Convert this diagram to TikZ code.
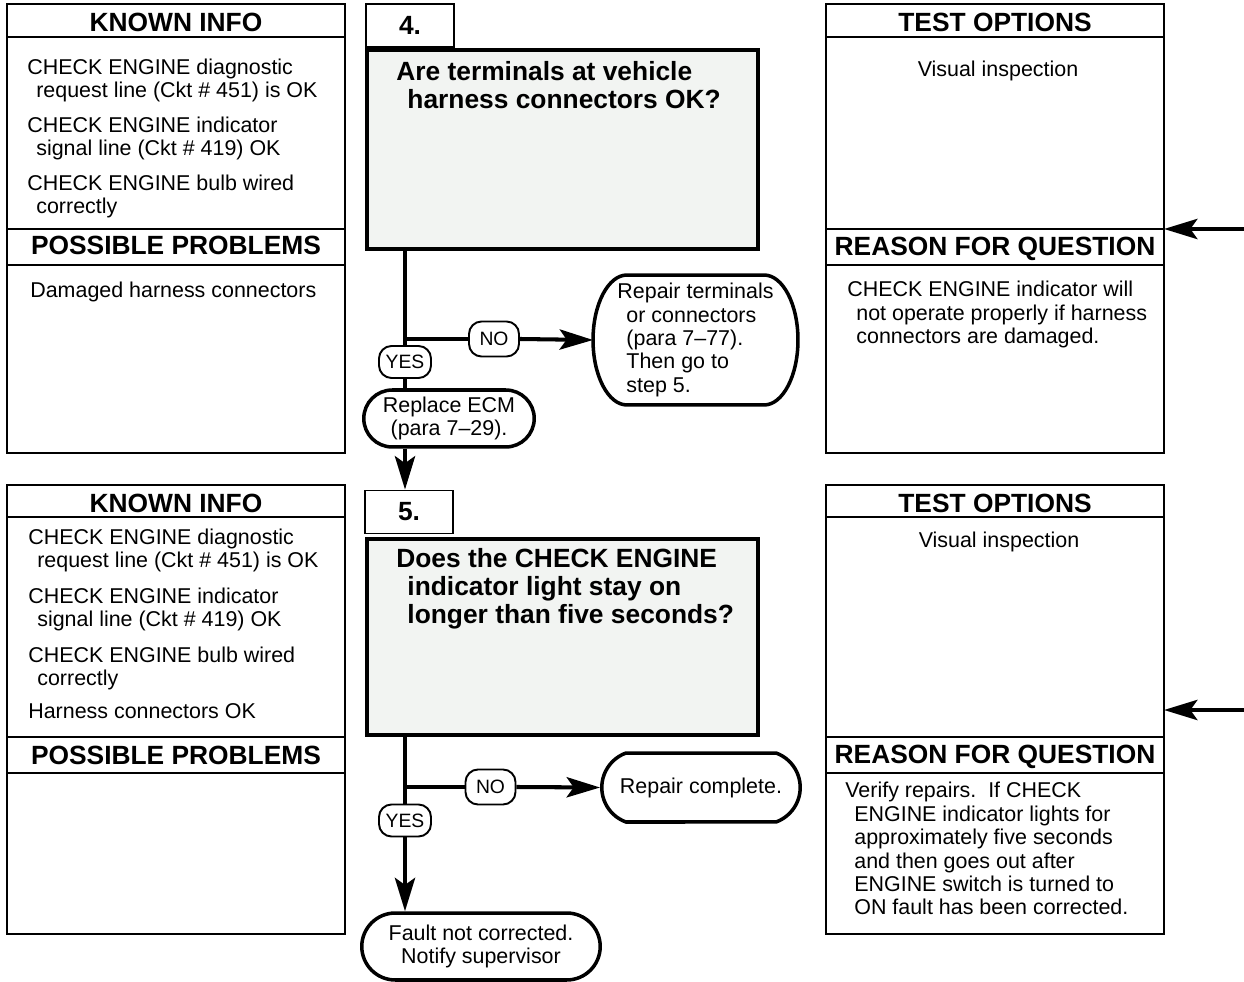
\documentclass[tikz,border=0pt]{standalone}
\usepackage{fontspec}
\setmainfont{Liberation Sans}
\usetikzlibrary{arrows.meta,shapes.misc}
\definecolor{qgray}{HTML}{F2F4F2}
\newcommand{\bdfont}{\fontsize{12.2}{13.3}\selectfont}
\newcommand{\hdfont}{\fontsize{15}{16.1}\selectfont\bfseries}
\newcommand{\ynfont}{\fontsize{11}{12}\selectfont}
\newcommand{\hind}{\hspace*{0.42em}}

\begin{document}
\begin{tikzpicture}[x=0.02cm,y=-0.02cm,
  panel/.style={draw,line width=1.1pt},
  head/.style={font=\hdfont,anchor=base,inner sep=0pt},
  % multi-line texts are placed by the baseline of their last line
  txt/.style={font=\bdfont,anchor=base west,align=left,inner sep=0pt},
  stepnum/.style={draw,line width=1.1pt,font=\hdfont,minimum width=1.76cm,minimum height=0.86cm,inner sep=0pt},
  question/.style={draw,fill=qgray,line width=2.3pt,minimum width=7.82cm},
  qtxt/.style={font=\hdfont,anchor=base west,align=left,inner sep=0pt},
  endoval/.style={draw,fill=white,rounded rectangle,line width=2pt,font=\bdfont,align=center,inner sep=1pt},
  yn/.style={draw,fill=white,rounded corners=0.25cm,line width=1.1pt,font=\ynfont,inner sep=0pt},
  flow/.style={line width=2.3pt},
  flowtip/.style={flow,-{Stealth[length=19pt,width=11.5pt,inset=4pt]}}]
  \useasboundingbox (0,0) rectangle (1244,982);
  % side panels
  \foreach \x in {7,826} {
    \foreach \y/\a/\b/\c in {4/37/229/265,485/517/737/773} {
      \draw[panel] (\x,\y) rectangle ++(338,449);
      \draw[panel] (\x,\a) -- ++(338,0);
      \draw[panel] (\x,\b) -- ++(338,0);
      \draw[panel] (\x,\c) -- ++(338,0);
    }
  }
  \node[head] (hk4) at (176,32) {KNOWN INFO};
  \node[head] (hp4) at (176,255) {POSSIBLE PROBLEMS};
  \node[head] (ht4) at (995,32) {TEST OPTIONS};
  \node[head] (hr4) at (995,256) {REASON FOR QUESTION};
  \node[head] (hk5) at (176,513) {KNOWN INFO};
  \node[head] (hp5) at (176,764) {POSSIBLE PROBLEMS};
  \node[head] (ht5) at (995,513) {TEST OPTIONS};
  \node[head] (hr5) at (995,763) {REASON FOR QUESTION};

  \node[txt] (k4a) at (27,97.4) {CHECK ENGINE diagnostic\\\hind request line (Ckt \# 451) is OK};
  \node[txt] (k4b) at (27,155.4) {CHECK ENGINE indicator\\\hind signal line (Ckt \# 419) OK};
  \node[txt] (k4c) at (27,213.4) {CHECK ENGINE bulb wired\\\hind correctly};
  \node[txt] (p4) at (30,298) {Damaged harness connectors};
  \node[txt,anchor=base] (t4) at (998,77) {Visual inspection};
  \node[txt] (r4) at (847,343.7) {CHECK ENGINE indicator will\\\hind not operate properly if harness\\\hind connectors are damaged.};

  \node[txt] (k5a) at (28,567.4) {CHECK ENGINE diagnostic\\\hind request line (Ckt \# 451) is OK};
  \node[txt] (k5b) at (28,626.4) {CHECK ENGINE indicator\\\hind signal line (Ckt \# 419) OK};
  \node[txt] (k5c) at (28,685.4) {CHECK ENGINE bulb wired\\\hind correctly};
  \node[txt] (k5d) at (28,719) {Harness connectors OK};
  \node[txt,anchor=base] (t5) at (999,548) {Visual inspection};
  \node[txt] (r5) at (845,914.8) {Verify repairs.\ \ If CHECK\\\hind ENGINE indicator lights for\\\hind approximately five seconds\\\hind and then goes out after\\\hind ENGINE switch is turned to\\\hind ON fault has been corrected.};

  \coordinate (rq4) at (1164,229);
  \coordinate (rq5) at (1164,710);
  \coordinate (e4) at (1244,229);
  \coordinate (e5) at (1244,710);
  \draw[flowtip] (e4) -- (rq4);
  \draw[flowtip] (e5) -- (rq5);

  % step 4
  \node[stepnum] (n4) at (410,25.5) {4.};
  \node[question,minimum height=3.98cm] (q4) at (562.5,149.5) {};
  \node[qtxt] (qt4) at (396,108.3) {Are terminals at vehicle\\\hind harness connectors OK?};
  \node[yn,minimum width=1.04cm,minimum height=0.64cm] (y4) at (405,362) {YES};
  \node[yn,minimum width=1.0cm,minimum height=0.7cm] (no4) at (494,339) {NO};
  \node[font=\bdfont,align=left,outer sep=0pt,minimum width=4.1cm,minimum height=2.6cm] (fix4) at (695.5,340)
    {Repair terminals\\\hind or connectors\\\hind (para 7--77).\\\hind Then go to\\\hind step 5.};
  \draw[line width=2pt] ([xshift=0.68cm]fix4.north west) -- ([xshift=-0.68cm]fix4.north east)
    arc[start angle=90,end angle=-90,x radius=0.68cm,y radius=1.3cm]
    -- ([xshift=0.68cm]fix4.south west)
    arc[start angle=270,end angle=90,x radius=0.68cm,y radius=1.3cm] -- cycle;
  \node[endoval,minimum width=3.48cm,minimum height=1.14cm] (ecm) at (449,418.5) {Replace ECM\\(para 7--29).};
  \coordinate (j4) at (406,339);
  \draw[flow] (q4.south -| y4) -- (y4.north);
  \draw[flow] (y4.south) -- (y4 |- ecm.north);
  \draw[flow] (j4) -- (no4.west);
  \draw[flowtip] (no4.east) -- (fix4.west);

  % step 5
  \node[stepnum] (n5) at (409,512) {5.};
  \draw[flowtip] (ecm.south -| y4) -- (n5.north -| y4);
  \node[question,minimum height=3.92cm] (q5) at (562.5,637) {};
  \node[qtxt] (qt5) at (396,623.6) {Does the CHECK ENGINE\\\hind indicator light stay on\\\hind longer than five seconds?};
  \node[yn,minimum width=1.04cm,minimum height=0.64cm] (y5) at (405,820.5) {YES};
  \node[yn,minimum width=1.0cm,minimum height=0.7cm] (no5) at (490.5,787) {NO};
  \node[endoval,rounded rectangle arc length=140,minimum width=4.04cm,minimum height=1.38cm] (done5) at (701,787.5) {Repair complete.};
  \node[endoval,minimum width=4.84cm,minimum height=1.34cm] (fault5) at (481,946.5) {Fault not corrected.\\Notify supervisor};
  \coordinate (j5) at (406,787);
  \draw[flow] (q5.south -| y5) -- (y5.north);
  \draw[flowtip] (y5.south) -- (fault5.north -| y5);
  \draw[flow] (j5) -- (no5.west);
  \draw[flowtip] (no5.east) -- (done5.west);
\end{tikzpicture}
\end{document}
